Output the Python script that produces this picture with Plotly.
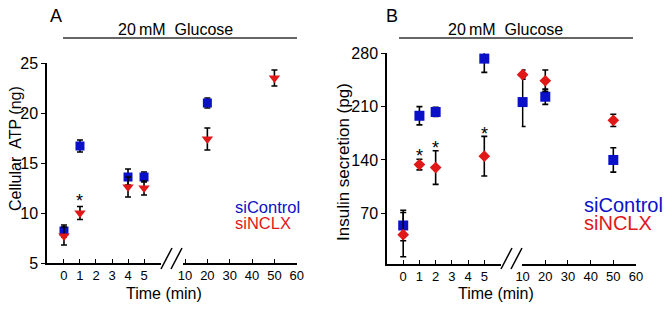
import plotly.graph_objects as go

# ---------------- data ----------------
# Panel A: Cellular ATP (ng)
a_time = [0, 1, 4, 5, 20, 50]
a_ctrl = [8.2, 16.7, 13.6, 13.6, 21.0, 26.4]
a_ctrl_err = [0.6, 0.6, 0.8, 0.5, 0.5, 0.7]
a_nclx = [7.7, 10.0, 12.6, 12.5, 17.4, 23.5]
a_nclx_err = [0.9, 0.65, 1.0, 0.7, 1.1, 0.8]
a_star_time = [1]
a_star_y = [11.7]

# Panel B: Insulin secretion (pg)
b_time = [0, 1, 2, 5, 10, 20, 50]
b_ctrl = [54, 198, 203, 273, 216, 223, 140]
b_ctrl_err = [20, 12, 6, 18, 32, 10, 16]
b_nclx = [42, 134, 130, 145, 252, 244, 192]
b_nclx_err = [29, 7, 22, 26, 6, 14, 8]
b_star_time = [1, 2, 5]
b_star_y = [152, 162, 181]

early_ticks = [0, 1, 2, 3, 4, 5]
late_ticks = [10, 20, 30, 40, 50, 60]
a_yticks = [5, 10, 15, 20, 25]
b_yticks = [70, 140, 210, 280]

BLUE = "#0a10c8"
RED = "#e01818"
FONT = "Arial, Liberation Sans, sans-serif"
OFF = 8  # page body margin
W, H = 672 - OFF, 311 - OFF


def px(x):
    return (x - OFF) / W


def py(y):
    return 1 - (y - OFF) / H


def split(t, v, e, early):
    idx = [i for i, tt in enumerate(t) if (tt <= 5) == early]
    return [t[i] for i in idx], [v[i] for i in idx], [e[i] for i in idx]


fig = go.Figure()


def add_series(t, v, e, color, symbol, size, xa, ya, early):
    tt, vv, ee = split(t, v, e, early)
    fig.add_trace(go.Scatter(
        x=tt, y=vv, mode="markers", xaxis=xa, yaxis=ya,
        marker=dict(color=color, symbol=symbol, size=size, line=dict(width=0)),
        error_y=dict(type="data", array=ee, visible=True, color="black",
                     thickness=1.6, width=3),
        cliponaxis=False, showlegend=False))


# Panel A
for early, xa in [(True, "x"), (False, "x2")]:
    add_series(a_time, a_ctrl, a_ctrl_err, BLUE, "square", 9, xa, "y", early)
    add_series(a_time, a_nclx, a_nclx_err, RED, "triangle-down", 10, xa, "y", early)
# Panel B
for early, xa in [(True, "x3"), (False, "x4")]:
    add_series(b_time, b_ctrl, b_ctrl_err, BLUE, "square", 10, xa, "y2", early)
    add_series(b_time, b_nclx, b_nclx_err, RED, "diamond", 9, xa, "y2", early)

axis_common = dict(showline=True, linecolor="black", linewidth=1.5,
                   showgrid=False, zeroline=False, color="black", automargin=False,
                   tickfont=dict(family=FONT, size=13, color="black"))
xe = dict(axis_common, ticks="inside", ticklen=4, tickwidth=1.3, tickcolor="black",
          tickmode="array")
ye = dict(axis_common, ticks="outside", ticklen=4, tickwidth=1.3, tickcolor="black",
          tickmode="array", tickfont=dict(family=FONT, size=16, color="black"))

fig.update_layout(
    template="none",
    width=W, height=H, margin=dict(l=0, r=0, t=0, b=0, pad=0),
    paper_bgcolor="white", plot_bgcolor="white",
    font=dict(family=FONT, color="black"),
    xaxis=dict(xe, domain=[px(47), px(161)], range=[-1.06, 6.06], anchor="y",
               tickvals=early_ticks),
    xaxis2=dict(xe, domain=[px(183), px(297)], range=[9.1, 60.1], anchor="y",
                tickvals=late_ticks),
    yaxis=dict(ye, domain=[py(263), py(63)], range=[5, 25], anchor="x",
               tickvals=a_yticks),
    xaxis3=dict(xe, domain=[px(387), px(501)], range=[-1.0, 6.03], anchor="y2",
                tickvals=early_ticks),
    xaxis4=dict(xe, domain=[px(521.7), px(636)], range=[9.6, 60], anchor="y2",
                tickvals=late_ticks),
    yaxis2=dict(ye, domain=[py(263.5), py(53.3)], range=[4.1, 280], anchor="x3",
                tickvals=b_yticks),
)

ann = []
txt = dict(family=FONT, color="black")
C = dict(xref="paper", yref="paper", showarrow=False, xanchor="center", yanchor="middle")
# Panel letters
ann.append(dict(C, text="A", x=px(56), y=py(16), font=dict(txt, size=18)))
ann.append(dict(C, text="B", x=px(392), y=py(16), font=dict(txt, size=18)))
# Glucose labels
for cx in (175, 505.5):
    ann.append(dict(C, text="20\u2009mM  Glucose", x=px(cx), y=py(29),
                    font=dict(txt, size=16)))
# Axis titles
for cx in (164, 496):
    ann.append(dict(C, text="Time (min)", x=px(cx), y=py(293), font=dict(txt, size=16)))
ann.append(dict(C, text="Cellular  ATP (ng)", x=px(15), y=py(149), textangle=-90,
                font=dict(txt, size=16)))
ann.append(dict(C, text="Insulin secretion (pg)", x=px(343), y=py(162), textangle=-90,
                font=dict(txt, size=17)))
# Legends as coloured text
L = dict(C, xanchor="left")
ann.append(dict(L, text="siControl", x=px(233), y=py(207),
                font=dict(family=FONT, size=16.5, color=BLUE)))
ann.append(dict(L, text="siNCLX", x=px(233), y=py(223),
                font=dict(family=FONT, size=16.5, color=RED)))
ann.append(dict(L, text="siControl", x=px(582), y=py(205),
                font=dict(family=FONT, size=20, color=BLUE)))
ann.append(dict(L, text="siNCLX", x=px(582), y=py(223),
                font=dict(family=FONT, size=20, color=RED)))
# Significance asterisks
for t, y in zip(a_star_time, a_star_y):
    ann.append(dict(text="*", x=t, y=y, xref="x", yref="y", showarrow=False,
                    xanchor="center", yanchor="middle", yshift=-5, font=dict(txt, size=18)))
for t, y in zip(b_star_time, b_star_y):
    ann.append(dict(text="*", x=t, y=y, xref="x3", yref="y2", showarrow=False,
                    xanchor="center", yanchor="middle", yshift=-5, font=dict(txt, size=18)))
fig.update_layout(annotations=ann)

shapes = []
# overlines under the glucose label
for x0, x1 in ((63, 297), (399, 633)):
    shapes.append(dict(type="line", xref="paper", yref="paper", x0=px(x0), x1=px(x1),
                       y0=py(38), y1=py(38), line=dict(color="#333", width=1.3)))
# axis break marks
for off in (0, 336 + 4):
    for dx in (0, 10):
        shapes.append(dict(type="line", xref="paper", yref="paper",
                           x0=px(161 + off + dx), y0=py(269),
                           x1=px(172 + off + dx), y1=py(248),
                           line=dict(color="black", width=1.5)))
fig.update_layout(shapes=shapes)

fig.write_html("out.html")
